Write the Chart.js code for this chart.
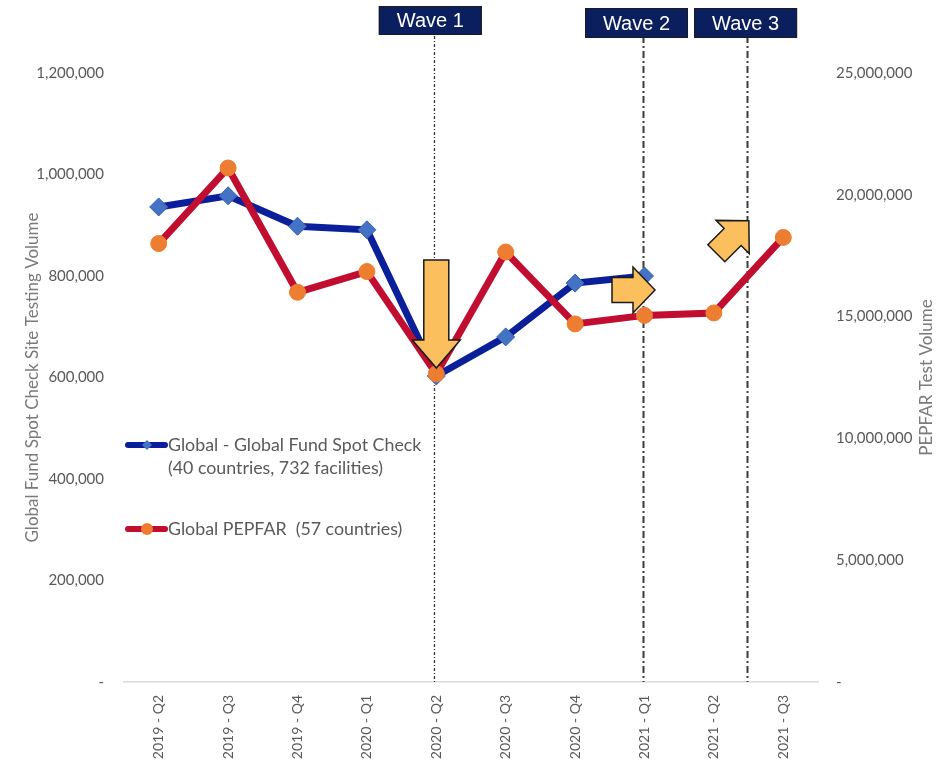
<!DOCTYPE html>
<html>
<head>
<meta charset="utf-8">
<script src="https://cdn.jsdelivr.net/npm/chart.js@4.4.1/dist/chart.umd.min.js"></script>
<style>
  html, body { margin: 0; padding: 0; background: #fff; }
  #wrap { width: 950px; height: 761px; }
</style>
</head>
<body>
<div id="wrap"><canvas id="myChart" width="950" height="761"></canvas></div>
<script>
const quarters = ['2019 - Q2', '2019 - Q3', '2019 - Q4', '2020 - Q1', '2020 - Q2',
  '2020 - Q3', '2020 - Q4', '2021 - Q1', '2021 - Q2', '2021 - Q3'];
const spotCheck = [936000, 958000, 898000, 891000, 603000, 680000, 786000, 800000, null, null];
const pepfar = [18000000, 21100000, 16000000, 16850000, 12650000, 17650000, 14700000, 15050000, 15150000, 18250000];
const spotCheckLabel = ['Global - Global Fund Spot Check', '(40 countries, 732 facilities)'];
const pepfarLabel = ['Global PEPFAR  (57 countries)'];
const waves = ['Wave 1', 'Wave 2', 'Wave 3'];

const tickColor = '#595959';
const font = 'Lato, "Open Sans", sans-serif';

function fmt(v) {
  return v === 0 ? '-' : v.toLocaleString('en-US');
}

// block arrow centred at (cx,cy), pointing along angle
function blockArrow(ctx, cx, cy, ang, len, bodyW, headW, headL) {
  ctx.save();
  ctx.translate(cx, cy);
  ctx.rotate(ang);
  const h = len / 2;
  ctx.beginPath();
  ctx.moveTo(-h, -bodyW / 2);
  ctx.lineTo(h - headL, -bodyW / 2);
  ctx.lineTo(h - headL, -headW / 2);
  ctx.lineTo(h, 0);
  ctx.lineTo(h - headL, headW / 2);
  ctx.lineTo(h - headL, bodyW / 2);
  ctx.lineTo(-h, bodyW / 2);
  ctx.closePath();
  ctx.fillStyle = '#FBBF5E';
  ctx.fill();
  ctx.lineWidth = 1.5;
  ctx.strokeStyle = '#1a1a1a';
  ctx.stroke();
  ctx.restore();
}

const extras = {
  id: 'extras',
  beforeDatasetsDraw(chart) {
    const ctx = chart.ctx;
    const x = chart.scales.x;
    const area = chart.chartArea;
    const lines = [
      { v: 4, w: 1.3, dash: [3, 2, 1, 2] },
      { v: 7, w: 2, dash: [7, 3, 2, 3] },
      { v: 8.5, w: 2, dash: [7, 3, 2, 3] }
    ];
    ctx.save();
    lines.forEach(l => {
      const px = Math.round(x.getPixelForValue(l.v)) - 1.5;
      ctx.beginPath();
      ctx.setLineDash(l.dash);
      ctx.lineWidth = l.w;
      ctx.strokeStyle = '#3a3a3a';
      ctx.moveTo(px, 36);
      ctx.lineTo(px, area.bottom);
      ctx.stroke();
    });
    ctx.restore();
  },
  afterDatasetsDraw(chart) {
    const ctx = chart.ctx;
    const x = chart.scales.x;
    const area = chart.chartArea;

    // wave boxes
    const boxes = [
      { cx: x.getPixelForValue(4) - 6, top: 6, h: 29 },
      { cx: x.getPixelForValue(7) - 8, top: 8, h: 30 },
      { cx: x.getPixelForValue(8.5) - 3, top: 8, h: 30 }
    ];
    ctx.save();
    boxes.forEach((b, i) => {
      const w = 103;
      ctx.fillStyle = '#0B1F5E';
      ctx.fillRect(b.cx - w / 2, b.top, w, b.h);
      ctx.strokeStyle = '#1b1b1b';
      ctx.lineWidth = 1;
      ctx.strokeRect(b.cx - w / 2 + 0.5, b.top + 0.5, w - 1, b.h - 1);
      ctx.fillStyle = '#ffffff';
      ctx.font = '20px "Liberation Sans", Arial, sans-serif';
      ctx.textAlign = 'center';
      ctx.textBaseline = 'middle';
      ctx.fillText(waves[i], b.cx, b.top + b.h / 2 + 1);
    });

    // arrows
    blockArrow(ctx, x.getPixelForValue(4), 314, Math.PI / 2, 108, 25, 48, 28);
    blockArrow(ctx, x.getPixelForValue(7) - 11, 290, 0, 43, 25, 46, 22);
    blockArrow(ctx, x.getPixelForValue(8.5) - 16, 237, -Math.PI / 4, 46, 24, 47, 23);

    // legend
    const items = [
      { ds: chart.data.datasets[0], y: 445, text: spotCheckLabel },
      { ds: chart.data.datasets[1], y: 529, text: pepfarLabel }
    ];
    items.forEach(it => {
      ctx.beginPath();
      ctx.lineCap = 'round';
      ctx.lineWidth = 6;
      ctx.strokeStyle = it.ds.borderColor;
      ctx.moveTo(128, it.y);
      ctx.lineTo(165, it.y);
      ctx.stroke();
      ctx.fillStyle = it.ds.pointBackgroundColor;
      ctx.beginPath();
      if (it.ds.pointStyle === 'rectRot') {
        ctx.moveTo(147, it.y - 5);
        ctx.lineTo(152, it.y);
        ctx.lineTo(147, it.y + 5);
        ctx.lineTo(142, it.y);
        ctx.closePath();
      } else {
        ctx.arc(147, it.y, 6, 0, Math.PI * 2);
      }
      ctx.fill();
      ctx.fillStyle = tickColor;
      ctx.font = '17.8px ' + font;
      ctx.textAlign = 'left';
      ctx.textBaseline = 'middle';
      it.text.forEach((t, k) => ctx.fillText(t, 168, it.y + k * 23));
    });

    // axis titles
    const midY = (area.top + area.bottom) / 2;
    ctx.fillStyle = '#7a7a7a';
    ctx.font = '17px ' + font;
    ctx.textAlign = 'center';
    ctx.textBaseline = 'middle';
    ctx.translate(33, midY);
    ctx.rotate(-Math.PI / 2);
    ctx.fillText('Global Fund Spot Check Site Testing Volume', 0, 0);
    ctx.setTransform(1, 0, 0, 1, 0, 0);
    ctx.translate(927, midY);
    ctx.rotate(-Math.PI / 2);
    ctx.fillText('PEPFAR Test Volume', 0, 0);
    ctx.restore();
  }
};

new Chart(document.getElementById('myChart'), {
  type: 'line',
  data: {
    labels: quarters,
    datasets: [{
      label: spotCheckLabel.join(' '),
      data: spotCheck,
      yAxisID: 'y',
      borderColor: '#0B1F9B',
      borderWidth: 7,
      pointStyle: 'rectRot',
      pointRadius: 9,
      pointHoverRadius: 9,
      pointBackgroundColor: '#4472C4',
      pointBorderColor: '#3560B0',
      pointBorderWidth: 1,
      lineTension: 0,
      spanGaps: false,
      order: 2
    }, {
      label: pepfarLabel[0],
      data: pepfar,
      yAxisID: 'y2',
      borderColor: '#C00D30',
      borderWidth: 7,
      pointStyle: 'circle',
      pointRadius: 8,
      pointHoverRadius: 8,
      pointBackgroundColor: '#ED7D31',
      pointBorderColor: '#ED7D31',
      pointBorderWidth: 1,
      lineTension: 0,
      order: 1
    }]
  },
  options: {
    responsive: false,
    animation: false,
    layout: { padding: { left: 18, right: 10, top: 73, bottom: 0 } },
    plugins: { legend: { display: false }, tooltip: { enabled: false } },
    scales: {
      x: {
        offset: true,
        grid: { display: false },
        border: { display: true, color: '#D9D9D9', width: 1.5 },
        ticks: {
          color: tickColor,
          font: { family: font, size: 14 },
          minRotation: 90,
          maxRotation: 90,
          padding: 5
        },
        afterFit(s) { s.height = 79; }
      },
      y: {
        position: 'left',
        min: 0,
        max: 1200000,
        grid: { display: false, drawTicks: false },
        border: { display: false },
        ticks: {
          stepSize: 200000,
          color: tickColor,
          font: { family: font, size: 15 },
          padding: 20,
          callback: v => fmt(v)
        },
        afterFit(s) { s.width = 106; }
      },
      y2: {
        position: 'right',
        min: 0,
        max: 25000000,
        grid: { display: false, drawTicks: false },
        border: { display: false },
        ticks: {
          stepSize: 5000000,
          color: tickColor,
          font: { family: font, size: 15 },
          padding: 18,
          callback: v => fmt(v)
        },
        afterFit(s) { s.width = 122; }
      }
    }
  },
  plugins: [extras]
});
</script>
</body>
</html>
